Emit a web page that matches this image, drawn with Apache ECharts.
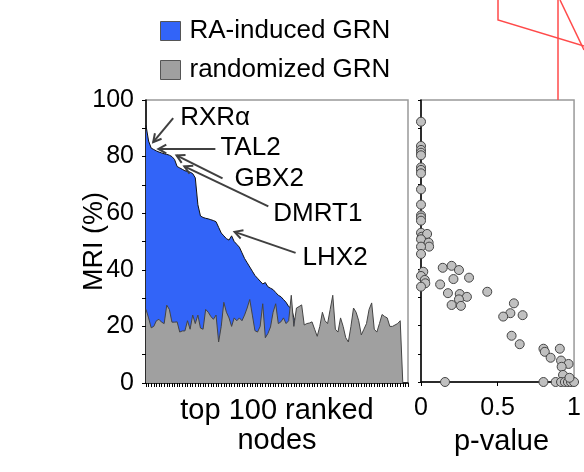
<!DOCTYPE html>
<html>
<head>
<meta charset="utf-8">
<script src="https://cdn.jsdelivr.net/npm/echarts@6/dist/echarts.min.js"></script>
<style>
  html, body { margin: 0; padding: 0; background: #fff; }
  #main { width: 584px; height: 472px; }
</style>
</head>
<body>
<div id="main"></div>
<script>
// ranks of the top 100 nodes (x of the left panel)
var ranks = Array.from({ length: 100 }, function (_, i) { return i + 1; });

// MRI (%) of the RA-induced GRN, sorted
var raMri = [
  91, 85.5, 83, 82.5, 82, 81.6, 81.3, 81, 80.8, 80.5,
  80, 79, 76.5, 76, 75.5, 75, 74.8, 74.5, 74, 72.5,
  63, 59, 58.5, 58.2, 58, 57.7, 57.4, 57, 55, 53,
  52, 51, 50.5, 52, 50, 49, 48, 46, 44, 42.5,
  41, 39.5, 38, 37, 36, 35, 35.5, 34, 33.5, 33,
  32, 31, 30.5, 29.5, 28.5, 27, 26.5, 23, 21, 19.5,
  19, 18.5, 18, 17.2, 16.8, 16, 15.3, 15, 14.2, 14,
  13.6, 13, 12.4, 12.1, 11.5, 11, 10.6, 10, 9.4, 9.1,
  8.5, 8.2, 7.5, 7, 6.6, 6, 5.6, 5, 4.4, 4.1,
  3.8, 3.5, 3.1, 2.8, 2.5, 2.1, 1.8, 1.5, 1, 0
];

// MRI (%) of the randomized GRN
var randMri = [
  26, 23, 19.5, 20, 22, 22.5, 21.5, 21, 27.5, 26,
  21.5, 21.5, 21.6, 18, 18.4, 18.4, 22, 19, 24, 21,
  24, 19.4, 19, 26, 25, 23.5, 22.5, 24, 14.5, 20,
  28.5, 25, 23, 20, 23, 22, 23, 22, 24, 26.5,
  29.5, 24, 18.5, 18, 20, 28, 16, 17.5, 19.8, 25,
  28, 21, 21.6, 23, 21, 22, 31, 20, 26.5, 27,
  27.6, 20.5, 21, 21.2, 21.6, 19, 16.5, 20, 25, 22,
  21, 26, 31, 19, 18, 23, 20, 16, 14.5, 20,
  26.5, 25, 22, 17, 19, 21, 26, 28.3, 19, 18,
  21, 24.2, 23.5, 23, 20, 20, 20.5, 21, 22, 0
];

// right panel: p-value vs MRI (%)
var pValue = [
  0, 0, 0, 0, 0, 0, 0, 0, 0, 0,
  0, 0, 0, 0, 0.005, 0.04, 0, 0.05, 0.053, 0,
  0, 0.015, 0, 0.025, 0.028, 0, 0.142, 0.2, 0.248, 0.212,
  0.314, 0.125, 0.176, 0.253, 0.3, 0.248, 0.2, 0.261, 0.433, 0.607,
  0.584, 0.537, 0.664, 0.592, 0.645, 0.8, 0.809, 0.907, 0.847, 0.915,
  0.964, 0.919, 0.928, 0.157, 0.8, 0.88, 0.915, 0.94, 0.96, 0.98,
  1.0, 0.97
];
var pMri = [
  92.3, 83.7, 82.3, 81.3, 80.4, 76.1, 75.2, 74, 68.3, 62.9,
  59.1, 58.3, 57.2, 52.9, 51.5, 52.5, 50.6, 49.4, 48, 48,
  45.4, 39.1, 37.6, 36.2, 35, 33.8, 40.5, 41.2, 39.7, 36.5,
  37, 34.6, 31.5, 31.2, 30.2, 29.3, 27.3, 27, 32, 27.9,
  24.4, 23.2, 23.7, 16.4, 13.4, 11.8, 10.7, 11.8, 8.6, 7.6,
  6.4, 5.4, 2.5, 0, 0, 0, 0, 0, 0, 0,
  0, 1.5
];

// labelled genes: rank on the curve, arrow tail offset, text offset
var notes = [
  { name: 'RXR\u03b1', rank: 3,  nudge: [2, -6], tail: [20, -24], text: [7, 0] },
  { name: 'TAL2',      rank: 5,  nudge: [2, -2], tail: [57, 0],   text: [5, -1] },
  { name: 'GBX2',      rank: 12, nudge: [2, -4], tail: [46, 23],  text: [12, 0] },
  { name: 'DMRT1',     rank: 15, nudge: [2, -3], tail: [84, 40],  text: [5, 7] },
  { name: 'LHX2',      rank: 34, nudge: [3, -4], tail: [61, 21],  text: [7, 5] }
];

var font = 'Liberation Sans, Arial, sans-serif';

var myChart = echarts.init(document.getElementById('main'));

var option = {
  animation: false,
  textStyle: { fontFamily: font },
  legend: {
    orient: 'vertical',
    left: 155,
    top: 13,
    itemWidth: 20,
    itemHeight: 19,
    itemGap: 13,
    icon: 'rect',
    itemStyle: { borderColor: '#555', borderWidth: 1 },
    textStyle: { fontSize: 26, color: '#000', fontFamily: font, padding: [0, 0, 0, 4] },
    data: ['RA-induced GRN', 'randomized GRN']
  },
  grid: [
    { left: 146, top: 100, width: 262, height: 283, show: true, borderColor: '#999', borderWidth: 1.5 },
    { left: 421, top: 100, width: 157, height: 282, show: true, borderColor: '#999', borderWidth: 1.5 }
  ],
  xAxis: [
    {
      gridIndex: 0,
      type: 'value',
      min: 1,
      max: 102,
      interval: 1,
      splitLine: { show: false },
      axisLine: { lineStyle: { color: '#000', width: 1.5 } },
      axisTick: { show: true, length: 4, lineStyle: { color: '#000' } },
      axisLabel: { show: false },
      name: 'top 100 ranked\nnodes',
      nameLocation: 'middle',
      nameGap: 13,
      nameMoveOverlap: false,
      nameTextStyle: { fontSize: 29, color: '#000', fontFamily: font, lineHeight: 30, verticalAlign: 'top' }
    },
    {
      gridIndex: 1,
      type: 'value',
      min: 0,
      max: 1,
      interval: 0.5,
      splitLine: { show: false },
      axisLine: { lineStyle: { color: '#000', width: 1.5 } },
      axisTick: { show: true, length: 4, lineStyle: { color: '#000' } },
      axisLabel: { fontSize: 25, color: '#000', margin: 14 },
      name: 'p-value',
      nameLocation: 'middle',
      nameGap: 45,
      nameMoveOverlap: false,
      nameTextStyle: { fontSize: 29, color: '#000', fontFamily: font, padding: [0, 0, 0, 8] }
    }
  ],
  yAxis: [
    {
      gridIndex: 0,
      type: 'value',
      min: 0,
      max: 100,
      interval: 20,
      splitLine: { show: false },
      axisLine: { show: true, lineStyle: { color: '#000', width: 1.5 } },
      axisTick: { show: true, length: 4, lineStyle: { color: '#000' } },
      minorTick: { show: true, splitNumber: 2, length: 4, lineStyle: { color: '#000' } },
      axisLabel: { fontSize: 25, color: '#000', margin: 12 },
      name: 'MRI (%)',
      nameLocation: 'middle',
      nameRotate: 90,
      nameGap: 38,
      nameMoveOverlap: false,
      nameTextStyle: { fontSize: 27, color: '#000', fontFamily: font }
    },
    {
      gridIndex: 1,
      type: 'value',
      min: 0,
      max: 100,
      interval: 10,
      splitLine: { show: false },
      axisLine: { show: true, lineStyle: { color: '#000', width: 1.5 } },
      axisTick: { show: true, length: 3, lineStyle: { color: '#000' } },
      axisLabel: { show: false }
    }
  ],
  series: [
    {
      name: 'RA-induced GRN',
      type: 'line',
      xAxisIndex: 0,
      yAxisIndex: 0,
      z: 2,
      symbol: 'none',
      itemStyle: { color: '#3264f8' },
      lineStyle: { color: '#111', width: 1 },
      areaStyle: { color: '#3264f8', opacity: 1 },
      data: ranks.map(function (r, i) { return [r, raMri[i]]; })
    },
    {
      name: 'randomized GRN',
      type: 'line',
      xAxisIndex: 0,
      yAxisIndex: 0,
      z: 3,
      symbol: 'none',
      itemStyle: { color: '#a0a0a0' },
      lineStyle: { color: '#444', width: 1 },
      areaStyle: { color: '#a0a0a0', opacity: 1 },
      data: ranks.map(function (r, i) { return [r, randMri[i]]; })
    },
    {
      name: 'p-value',
      type: 'scatter',
      xAxisIndex: 1,
      yAxisIndex: 1,
      symbolSize: 9,
      clip: false,
      itemStyle: { color: '#c0c0c0', borderColor: '#444', borderWidth: 1, opacity: 1 },
      data: pValue.map(function (p, i) { return [p, pMri[i]]; })
    }
  ]
};

myChart.setOption(option);

// arrows and gene labels, anchored on the RA-induced curve
var graphics = [];
notes.forEach(function (n) {
  var pt = myChart.convertToPixel({ gridIndex: 0 }, [n.rank, raMri[n.rank - 1]]);
  var tip = [pt[0] + n.nudge[0], pt[1] + n.nudge[1]];
  var tail = [tip[0] + n.tail[0], tip[1] + n.tail[1]];
  var ang = Math.atan2(n.tail[1], n.tail[0]);
  var hl = 9, spread = 0.5;
  var h1 = [tip[0] + hl * Math.cos(ang + spread), tip[1] + hl * Math.sin(ang + spread)];
  var h2 = [tip[0] + hl * Math.cos(ang - spread), tip[1] + hl * Math.sin(ang - spread)];
  graphics.push({
    type: 'polyline', z: 100,
    shape: { points: [tail, tip] },
    style: { stroke: '#404040', lineWidth: 2, fill: null }
  });
  graphics.push({
    type: 'polyline', z: 100,
    shape: { points: [h1, tip, h2] },
    style: { stroke: '#404040', lineWidth: 2, fill: null }
  });
  graphics.push({
    type: 'text', z: 100,
    x: tail[0] + n.text[0], y: tail[1] + n.text[1],
    style: { text: n.name, fontSize: 26, fontFamily: font, fill: '#000', align: 'left', verticalAlign: 'middle' }
  });
});

// stray red strokes at the top right of the figure
var red = { stroke: '#ff4a4a', lineWidth: 1.5, fill: null };
graphics.push({ type: 'polyline', z: 100, shape: { points: [[498, 0], [498, 20], [584, 46]] }, style: red });
graphics.push({ type: 'polyline', z: 100, shape: { points: [[558, 0], [558, 100]] }, style: red });
graphics.push({ type: 'polyline', z: 100, shape: { points: [[560, 0], [584, 50]] }, style: red });

myChart.setOption({ graphic: graphics });
</script>
</body>
</html>
